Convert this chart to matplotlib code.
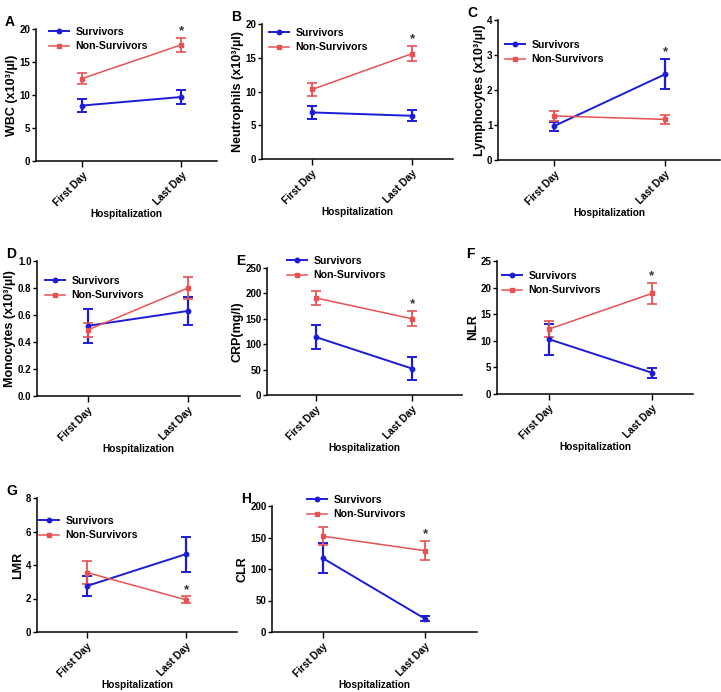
import matplotlib
matplotlib.use("Agg")
import matplotlib.pyplot as plt
from matplotlib.lines import Line2D

plt.rcParams["font.family"] = ["Liberation Sans", "DejaVu Sans"]
plt.rcParams["font.weight"] = "bold"
plt.rcParams["axes.labelweight"] = "bold"

# ---- data ----
days = ["First Day", "Last Day"]
panel_letters = ["A", "B", "C", "D", "E", "F", "G", "H"]
ylabels = [
    "WBC (x10³/µl)",
    "Neutrophils (x10³/µl)",
    "Lymphocytes (x10³/µl)",
    "Monocytes (x10³/µl)",
    "CRP(mg/l)",
    "NLR",
    "LMR",
    "CLR",
]
surv_mean = [[8.4, 9.7], [6.9, 6.4], [0.97, 2.45], [0.52, 0.63],
             [114, 52], [10.3, 4.0], [2.75, 4.65], [117, 21]]
surv_err = [[1.0, 1.1], [1.0, 0.8], [0.13, 0.43], [0.125, 0.105],
            [24, 22], [2.9, 0.9], [0.6, 1.05], [24, 4]]
non_mean = [[12.5, 17.6], [10.3, 15.6], [1.26, 1.16], [0.49, 0.80],
            [191, 150], [12.2, 18.9], [3.55, 1.92], [152, 129]]
non_err = [[0.8, 1.1], [0.9, 1.1], [0.15, 0.12], [0.05, 0.085],
           [14, 15], [1.5, 2.0], [0.68, 0.2], [14, 15]]
# which group carries the significance star on Last Day
star_group = ["non", "non", "surv", None, "non", "non", "non", "non"]
ymax = [20, 20, 4, 1.0, 250, 25, 8, 200]
ystep = [5, 5, 1, 0.2, 50, 5, 2, 50]

# ---- layout (figure pixels) ----
W, H = 721, 692
# left, right, top, bottom of each axes
boxes = [(36, 217, 29, 161), (262, 453, 24, 159), (498, 720, 20, 160),
         (37, 240, 261, 396), (267, 462, 268, 395), (497, 693, 261, 394),
         (37, 237, 498, 632), (272, 477, 506, 632)]
xlims = [(-0.465, 1.36), (-0.5, 1.41), (-0.505, 1.495), (-0.51, 1.52),
         (-0.51, 1.52), (-0.505, 1.40), (-0.505, 1.515), (-0.5, 1.51)]
legend_at = [(49, 27), (269, 28), (505, 40), (45, 276), (287, 256),
             (502, 271), (39, 516), (307, 495)]

BLUE = "#1c1cd6"
RED = "#e85252"

fig = plt.figure(figsize=(W / 100, H / 100), dpi=100)

for i in range(8):
    l, r, t, b = boxes[i]
    ax = fig.add_axes([l / W, 1 - b / H, (r - l) / W, (b - t) / H])
    x = [0, 1]
    ax.errorbar(x, surv_mean[i], yerr=surv_err[i], color=BLUE, lw=1.4,
                elinewidth=1.6, capsize=3.5, capthick=1.4, marker="o",
                ms=3.2)
    ax.errorbar(x, non_mean[i], yerr=non_err[i], color=RED, lw=1.1,
                elinewidth=1.3, capsize=3.5, capthick=1.2, marker="s",
                ms=3.2)

    if star_group[i] is not None:
        m = non_mean[i] if star_group[i] == "non" else surv_mean[i]
        e = non_err[i] if star_group[i] == "non" else surv_err[i]
        ax.annotate("*", (1, m[1] + e[1]), xytext=(0, 0.5),
                    textcoords="offset points", ha="center", va="bottom",
                    fontsize=9.5, color="#333333")

    ax.set_xlim(*xlims[i])
    ax.set_ylim(0, ymax[i])
    n = int(round(ymax[i] / ystep[i]))
    ticks = [k * ystep[i] for k in range(n + 1)]
    ax.set_yticks(ticks)
    if ystep[i] < 1:
        ax.set_yticklabels([f"{v:.1f}" for v in ticks])
    ax.set_xticks(x)
    ax.set_xticklabels(days, rotation=45, ha="right", rotation_mode="anchor")
    ax.tick_params(axis="both", labelsize=7.0, width=1.0, length=3, pad=1.0)
    ax.tick_params(axis="x", labelsize=7.3, length=4, pad=2.5)
    for s in ("top", "right"):
        ax.spines[s].set_visible(False)
    for s in ("left", "bottom"):
        ax.spines[s].set_linewidth(1.1)
    ax.set_ylabel(ylabels[i], fontsize=9.0, labelpad=1)
    ax.set_xlabel("Hospitalization", fontsize=7.3, labelpad=1)

    handles = [
        Line2D([], [], color=BLUE, lw=1.4, marker="o", ms=3.2),
        Line2D([], [], color=RED, lw=1.1, marker="s", ms=3.2),
    ]
    lx, ly = legend_at[i]
    ax.legend(handles, ["Survivors", "Non-Survivors"], loc="upper left",
              bbox_to_anchor=(lx / W, 1 - ly / H),
              bbox_transform=fig.transFigure, frameon=False, fontsize=7.6,
              borderpad=0, borderaxespad=0, handlelength=1.9,
              handletextpad=0.6, labelspacing=0.4)

    fig.text((l - 31) / W, 1 - (t - 14) / H, panel_letters[i],
             fontsize=10, fontweight="bold", va="top", ha="left")

fig.savefig("out.png", dpi=100)
